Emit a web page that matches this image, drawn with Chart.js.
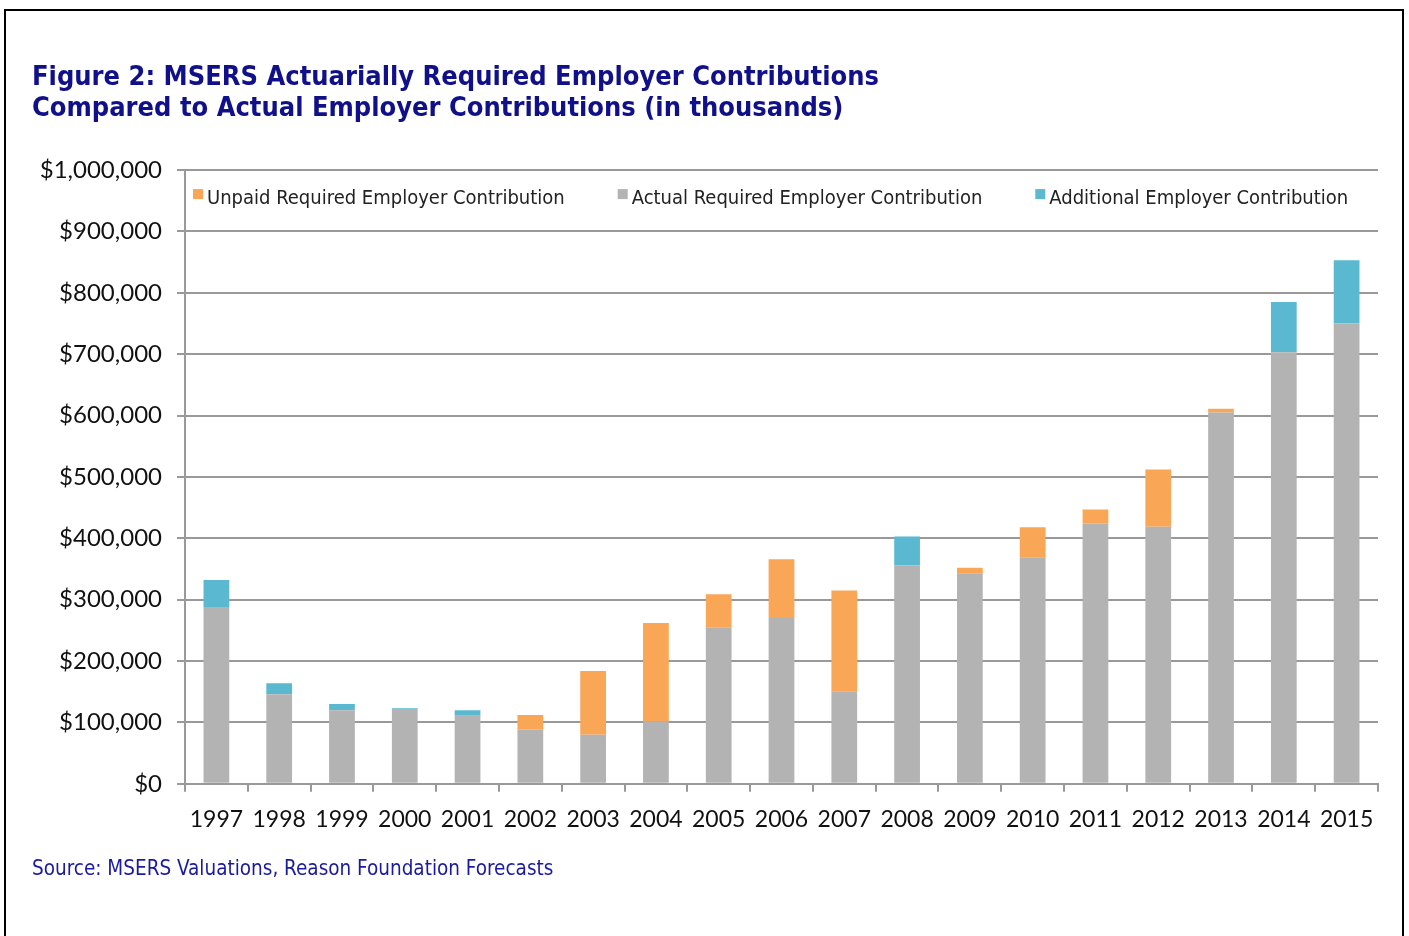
<!DOCTYPE html>
<html>
<head>
<meta charset="utf-8">
<script src="https://cdn.jsdelivr.net/npm/chart.js@4"></script>
<style>
  body { margin: 0; background: #fff; }
  #frame { position: absolute; left: 4px; top: 9px; width: 1396px; height: 1000px; border: 2px solid #000; }
  #wrap { position: absolute; left: 32px; top: 52px; width: 1360px; height: 840px; }
</style>
</head>
<body>
<div id="frame"></div>
<div id="wrap"><canvas id="contrib"></canvas></div>
<script>
// values in thousands of dollars
const years = ['1997', '1998', '1999', '2000', '2001', '2002', '2003', '2004', '2005', '2006',
  '2007', '2008', '2009', '2010', '2011', '2012', '2013', '2014', '2015'];
const actualRequired = [288000, 146000, 120000, 122000, 112000, 88000, 80000, 102000, 255000, 270000,
  151000, 356000, 343000, 369000, 424000, 419000, 605000, 703000, 750000];
const unpaidRequired = [0, 0, 0, 0, 0, 24000, 104000, 160000, 54000, 96000,
  164000, 0, 9000, 49000, 23000, 93000, 6000, 0, 0];
const additional = [44000, 18000, 10000, 1000, 8000, 0, 0, 0, 0, 0,
  0, 47000, 0, 0, 0, 0, 0, 82000, 103000];

// legend shows Unpaid, Actual, Additional (stack is Actual at the bottom)
const legendOrder = [1, 0, 2];

// legend sits in one row inside the top of the plot area
const inlineLegend = {
  id: 'inlineLegend',
  afterDraw(chart) {
    const c = chart.ctx;
    const area = chart.chartArea;
    c.save();
    c.font = '20px "DejaVu Sans Condensed"';
    c.textBaseline = 'middle';
    let x = area.left + 8;
    const y = area.top + 29;
    legendOrder.forEach(i => {
      const ds = chart.data.datasets[i];
      c.fillStyle = ds.backgroundColor;
      c.fillRect(x, y - 10, 10, 10);
      c.fillStyle = '#222';
      c.fillText(ds.label, x + 14, y);
      x += 14 + c.measureText(ds.label).width + 53;
    });
    c.restore();
  }
};

const ctx = document.getElementById('contrib');

new Chart(ctx, {
  type: 'bar',
  data: {
    labels: years,
    datasets: [{
      label: 'Actual Required Employer Contribution',
      data: actualRequired,
      backgroundColor: '#b3b3b3'
    }, {
      label: 'Unpaid Required Employer Contribution',
      data: unpaidRequired,
      backgroundColor: '#f9a656'
    }, {
      label: 'Additional Employer Contribution',
      data: additional,
      backgroundColor: '#5bb8d1'
    }]
  },
  plugins: [inlineLegend],
  options: {
    responsive: true,
    maintainAspectRatio: false,
    animation: false,
    layout: { padding: { top: 0, right: 14, left: 0, bottom: 0 } },
    datasets: {
      bar: { barPercentage: 0.41, categoryPercentage: 1 }
    },
    plugins: {
      tooltip: { enabled: false },
      legend: { display: false },
      title: {
        display: true,
        align: 'start',
        color: '#10108a',
        text: ['Figure 2: MSERS Actuarially Required Employer Contributions',
               'Compared to Actual Employer Contributions (in thousands)'],
        font: { family: 'DejaVu Sans Condensed', size: 27, weight: 'bold', lineHeight: 1.15 },
        padding: { top: 10, bottom: 46 }
      },
      subtitle: {
        display: true,
        position: 'bottom',
        align: 'start',
        color: '#1a1aa0',
        text: 'Source: MSERS Valuations, Reason Foundation Forecasts',
        font: { family: 'DejaVu Sans Condensed', size: 20.5 },
        padding: { top: 10, bottom: 10 }
      }
    },
    scales: {
      x: {
        stacked: true,
        grid: { drawOnChartArea: false, offset: true, color: '#999', lineWidth: 2, tickLength: 8 },
        border: { color: '#999', width: 2 },
        ticks: { color: '#111', font: { family: 'Lato', size: 23 }, padding: 14, maxRotation: 0, autoSkip: false }
      },
      y: {
        stacked: true,
        min: 0,
        max: 1000000,
        afterFit: scale => { scale.width = 153; },
        grid: { color: '#999', lineWidth: 2, tickLength: 8 },
        border: { color: '#999', width: 2 },
        ticks: {
          stepSize: 100000,
          color: '#111',
          padding: 15,
          font: { family: 'Lato', size: 24 },
          callback: v => '$' + v.toLocaleString('en-US')
        }
      }
    }
  }
});
</script>
</body>
</html>
